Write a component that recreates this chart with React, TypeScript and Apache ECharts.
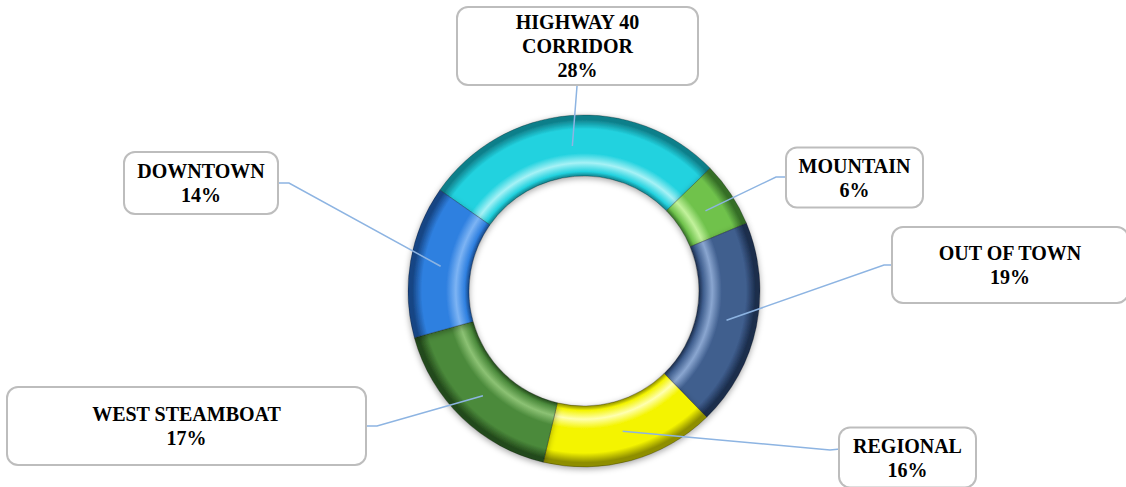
import React, { useEffect, useRef } from "react";
import * as echarts from "echarts";

const categories = ["HIGHWAY 40\nCORRIDOR", "MOUNTAIN", "OUT OF TOWN", "REGIONAL", "WEST STEAMBOAT", "DOWNTOWN"];
const values = [28, 6, 19, 16, 17, 14];
const baseColors = ["#22D2DF", "#6FC24C", "#3F5E8E", "#F4F400", "#4B8A3B", "#2F80E0"];
const lightColors = ["#A6F2F6", "#C2F29C", "#8AA6D0", "#FFFFB0", "#8CC274", "#7DB4F4"];
const darkColors = ["#0F7F8A", "#356E27", "#1B2D4C", "#8E8E00", "#234A1B", "#164584"];

// label box layout
const boxCenters = [[577.5, 46], [854.5, 177.5], [1010, 265], [907.5, 457.5], [186.5, 426], [201, 183]];
const boxWidths = [239, 135, 234, 135, 357, 152];
const boxPadV = [2, 5, 13, 5, 14, 6];
const elbows = [[577, 86], [776, 177], [884, 265], [830, 450], [377, 426], [289, 183]];
const ends = [[577, 84], [787, 177], [893, 265], [840, 449], [366, 426], [278, 183]];

const CX = 584;
const CY = 291;
const R_IN = 115;
const R_OUT = 176;
const START = 145;

export default function App() {
  const ref = useRef<HTMLDivElement>(null);
  useEffect(() => {
    if (!ref.current) return;
    const chart = echarts.init(ref.current, undefined, { renderer: "svg" });
    const total = values.reduce((a, b) => a + b, 0);
    const midAngles: number[] = [];
    let acc = 0;
    values.forEach((v) => {
      midAngles.push(START - ((acc + v / 2) / total) * 360);
      acc += v;
    });
    const rMid = (R_IN + R_OUT) / 2;
    const inner = R_IN / R_OUT;
    const ringData = categories.map((name, i) => ({
      name,
      value: values[i],
      itemStyle: {
        color: {
          type: "radial",
          x: CX,
          y: CY,
          r: R_OUT,
          global: true,
          colorStops: [
            { offset: 0, color: darkColors[i] },
            { offset: inner, color: darkColors[i] },
            { offset: inner + 0.025, color: baseColors[i] },
            { offset: inner + 0.075, color: lightColors[i] },
            { offset: inner + 0.13, color: baseColors[i] },
            { offset: 0.92, color: baseColors[i] },
            { offset: 0.975, color: darkColors[i] },
            { offset: 1, color: darkColors[i] },
          ],
        },
      },
    }));
    const labelData = categories.map((name, i) => ({
      name,
      value: values[i],
      label: {
        width: boxWidths[i],
        padding: [boxPadV[i], 0],
      },
    }));
    chart.setOption({
      animation: false,
      series: [
        {
          type: "pie",
          z: 2,
          center: [CX, CY],
          radius: [R_IN, R_OUT],
          startAngle: START,
          clockwise: true,
          emphasis: { disabled: true },
          label: { show: false },
          labelLine: { show: false },
          itemStyle: {
            borderColor: "rgba(0,0,0,0.25)",
            borderWidth: 1,
            shadowBlur: 6,
            shadowColor: "rgba(0,0,0,0.35)",
            shadowOffsetY: 2,
          },
          data: ringData,
        },
        {
          type: "pie",
          z: 5,
          center: [CX, CY],
          radius: [R_IN, R_OUT],
          startAngle: START,
          clockwise: true,
          silent: true,
          avoidLabelOverlap: false,
          emphasis: { disabled: true },
          itemStyle: { color: "rgba(0,0,0,0)", borderWidth: 0 },
          label: {
            show: true,
            position: "outside",
            formatter: (p: any) => `${p.name}\n${Math.round(p.percent)}%`,
            fontFamily: "'Liberation Serif', 'Times New Roman', serif",
            fontWeight: "bold",
            fontSize: 20,
            lineHeight: 24,
            color: "#000",
            align: "center",
            backgroundColor: "#fff",
            borderColor: "#BDBDBD",
            borderWidth: 2,
            borderRadius: 10,
            overflow: "none",
          },
          labelLine: {
            show: true,
            length: 10,
            length2: 10,
            lineStyle: { color: "#8DB4E2", width: 1.5 },
          },
          labelLayout: (params: any) => {
            const i = params.dataIndex;
            const a = (midAngles[i] * Math.PI) / 180;
            const sx = CX + rMid * Math.cos(a);
            const sy = CY - rMid * Math.sin(a);
            return {
              x: boxCenters[i][0],
              y: boxCenters[i][1],
              align: "center",
              verticalAlign: "middle",
              labelLinePoints: [[sx, sy], elbows[i], ends[i]],
            };
          },
          data: labelData,
        },
      ],
    });
    return () => chart.dispose();
  }, []);
  return (
    <div
      ref={ref}
      style={{ position: "fixed", left: 0, top: 0, width: 1126, height: 487, background: "#fff" }}
    />
  );
}
